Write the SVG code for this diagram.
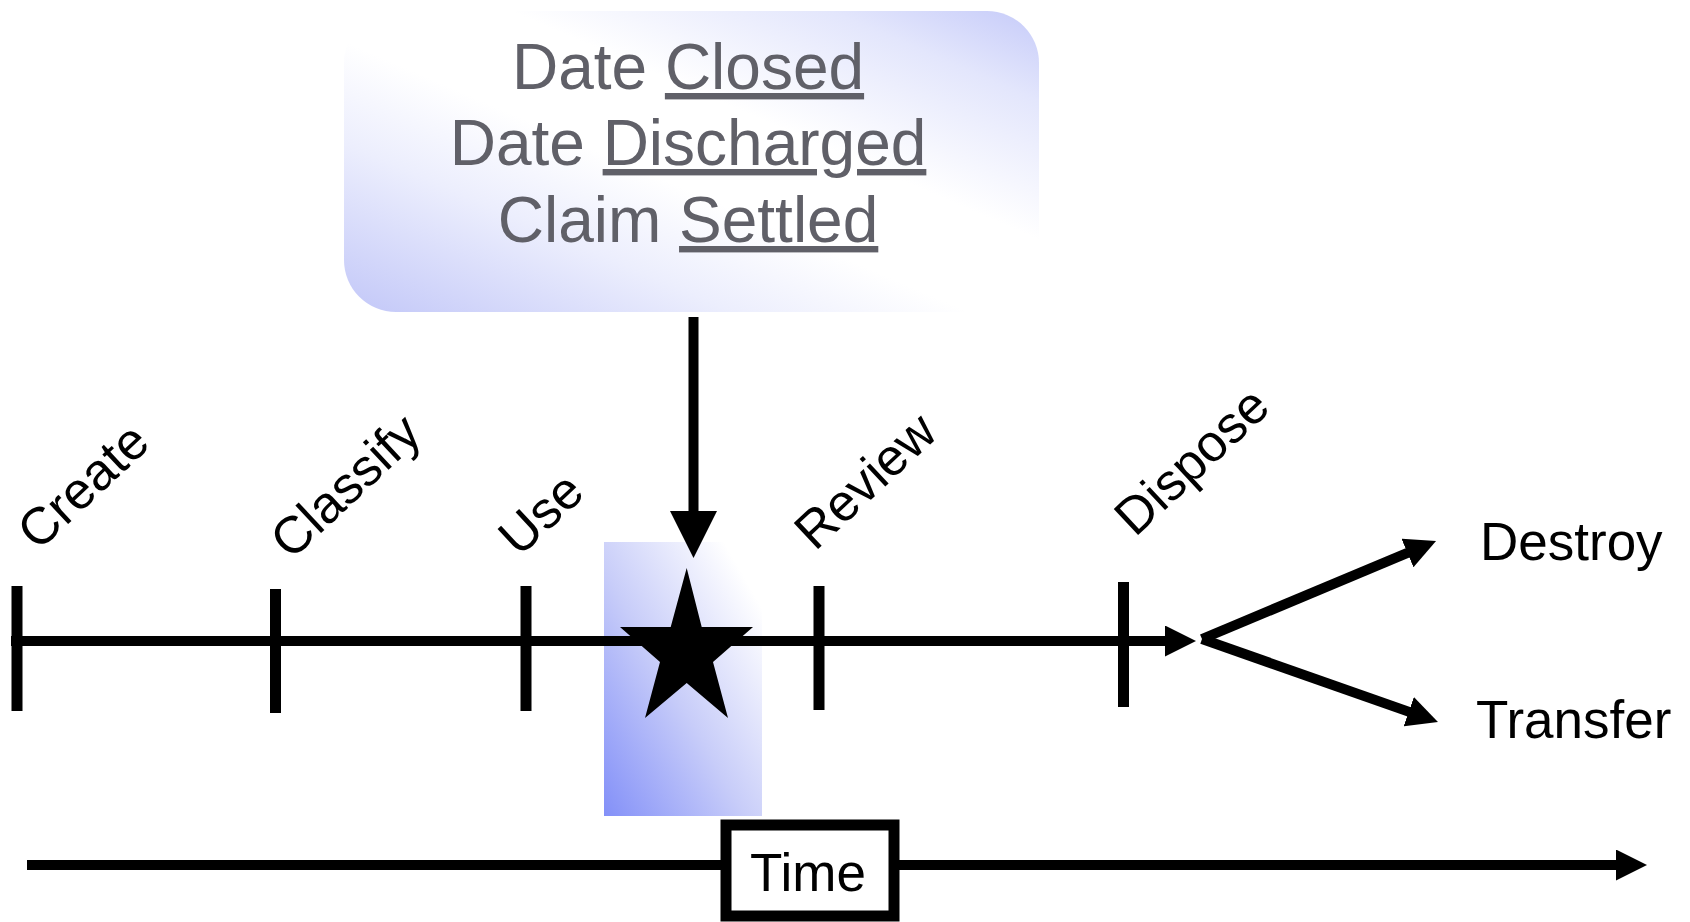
<svg xmlns="http://www.w3.org/2000/svg" width="1690" height="922" viewBox="0 0 1690 922">
  <style>
    .lbl { font-family: "Liberation Sans", Arial, sans-serif; font-size: 52px; fill: #000; }
    .out { font-family: "Liberation Sans", Arial, sans-serif; font-size: 53px; fill: #000; }
    .crit { font-family: "Liberation Sans", Arial, sans-serif; font-size: 64px; fill: #606068; text-anchor: middle; }
    .tick { stroke: #000; stroke-width: 11; fill: none; }
    .conn { stroke: #000; stroke-width: 10; fill: none; }
  </style>
  <defs>
    <linearGradient id="boxGrad" x1="0" y1="1" x2="1" y2="0">
      <stop offset="0" stop-color="#c2c7f8"/>
      <stop offset="0.28" stop-color="#eceefd"/>
      <stop offset="0.45" stop-color="#ffffff"/>
      <stop offset="0.62" stop-color="#ffffff"/>
      <stop offset="0.85" stop-color="#e3e6fc"/>
      <stop offset="1" stop-color="#c6cbf9"/>
    </linearGradient>
    <linearGradient id="bandGrad" x1="0" y1="1" x2="1" y2="0">
      <stop offset="0" stop-color="#8390f8"/>
      <stop offset="0.45" stop-color="#c8cdf9"/>
      <stop offset="0.88" stop-color="#ffffff"/>
    </linearGradient>
    <marker id="arrA" markerUnits="userSpaceOnUse" markerWidth="31" markerHeight="31" viewBox="0 0 31 31" refX="2" refY="15.5" orient="auto">
      <path d="M0,0 L31,15.5 L0,31 z" fill="#000"/>
    </marker>
    <marker id="arrB" markerUnits="userSpaceOnUse" markerWidth="47" markerHeight="47" viewBox="0 0 47 47" refX="2" refY="23.5" orient="auto">
      <path d="M0,0 L47,23.5 L0,47 z" fill="#000"/>
    </marker>
  </defs>

  <rect width="1690" height="922" fill="#ffffff"/>

  <g id="trigger-band">
    <rect x="604" y="542" width="158" height="274" fill="url(#bandGrad)"/>
  </g>

  <g id="criteria-box">
    <rect x="344" y="11" width="695" height="301" rx="52" ry="52" fill="url(#boxGrad)"/>
    <text class="crit" x="688" y="89">Date <tspan text-decoration="underline">Closed</tspan></text>
    <text class="crit" x="688" y="165">Date <tspan text-decoration="underline">Discharged</tspan></text>
    <text class="crit" x="688" y="242">Claim <tspan text-decoration="underline">Settled</tspan></text>
  </g>

  <g id="connectors">
    <line class="conn" x1="11" y1="641" x2="1167" y2="641" marker-end="url(#arrA)"/>
    <line class="conn" x1="693.5" y1="317" x2="693.5" y2="513" stroke-width="14" marker-end="url(#arrB)"/>
    <line class="conn" x1="1202" y1="639" x2="1409.3" y2="552.2" stroke-width="11" marker-end="url(#arrA)"/>
    <line class="conn" x1="1202" y1="639" x2="1410.6" y2="712.4" stroke-width="11" marker-end="url(#arrA)"/>
    <line class="conn" x1="27" y1="865" x2="1618" y2="865" marker-end="url(#arrA)"/>
  </g>

  <g id="stage-create">
    <line class="tick" x1="17" y1="586" x2="17" y2="711"/>
    <text class="lbl" transform="translate(38,552) rotate(-43)">Create</text>
  </g>
  <g id="stage-classify">
    <line class="tick" x1="275.5" y1="589" x2="275.5" y2="713"/>
    <text class="lbl" transform="translate(291,561) rotate(-43)">Classify</text>
  </g>
  <g id="stage-use">
    <line class="tick" x1="526" y1="586" x2="526" y2="711"/>
    <text class="lbl" transform="translate(519,558) rotate(-43)">Use</text>
  </g>
  <g id="stage-review">
    <line class="tick" x1="819" y1="586" x2="819" y2="710"/>
    <text class="lbl" transform="translate(815,552) rotate(-43)">Review</text>
  </g>
  <g id="stage-dispose">
    <line class="tick" x1="1123.5" y1="582" x2="1123.5" y2="707"/>
    <text class="lbl" transform="translate(1135,538) rotate(-43)">Dispose</text>
  </g>

  <g id="trigger-star">
    <polygon points="686.7,568 701.7,627 753,627 713,662 728,718 686.7,683 645,718 660,662 620,627 670.7,627" fill="#000"/>
  </g>

  <g id="outcome-destroy">
    <text class="out" x="1480" y="560">Destroy</text>
  </g>
  <g id="outcome-transfer">
    <text class="out" x="1476" y="738">Transfer</text>
  </g>

  <g id="time-box">
    <rect x="726" y="825" width="168" height="91" fill="#ffffff" stroke="#000" stroke-width="11"/>
    <text class="out" x="808" y="891" text-anchor="middle">Time</text>
  </g>
</svg>
